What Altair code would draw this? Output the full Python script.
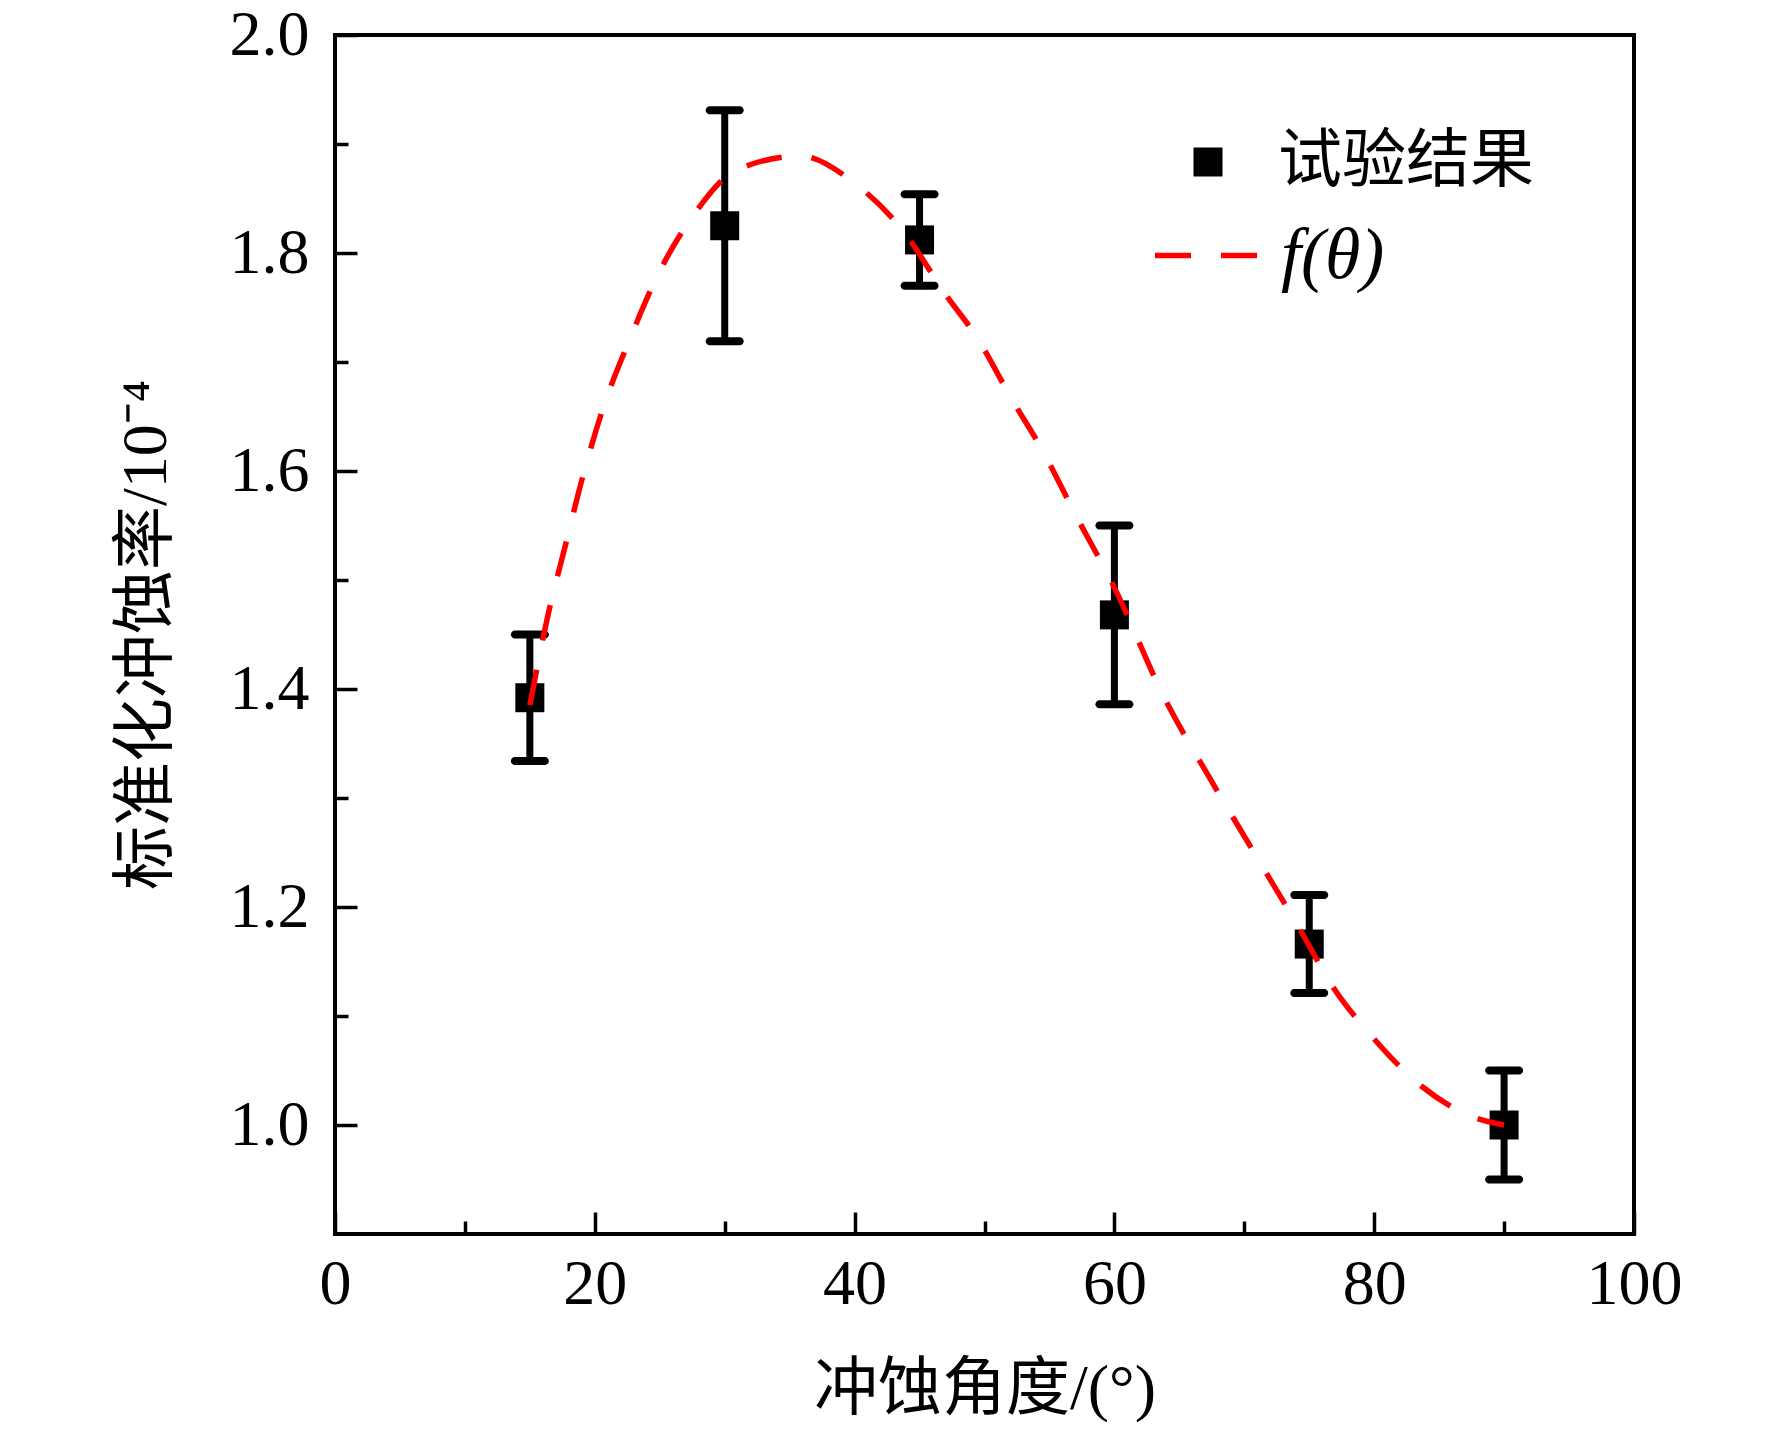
import altair as alt
import pandas as pd

# experimental data (erosion angle in degrees, normalised erosion rate /1e-4)
angles = [15, 30, 45, 60, 75, 90]
rates = [1.392, 1.825, 1.812, 1.468, 1.166, 1.000]
errors = [0.058, 0.106, 0.042, 0.082, 0.045, 0.050]

# fitted curve f(theta)
fit_theta = [15.0, 16.4, 17.7, 19.1, 20.65, 22.7, 24.9, 27.5, 30.9, 35.8, 40.0,
             43.75, 47.0, 49.5, 52.0, 54.5, 57.0, 60.0, 63.8, 67.4, 70.9, 74.4,
             76.8, 79.7, 83.6, 87.7, 90.0]
fit_rate = [1.385, 1.468, 1.530, 1.596, 1.658, 1.721, 1.781, 1.833, 1.876, 1.889, 1.864,
            1.820, 1.762, 1.721, 1.668, 1.618, 1.560, 1.493, 1.393, 1.317, 1.247, 1.177,
            1.127, 1.083, 1.036, 1.007, 1.000]

x_major = [0, 20, 40, 60, 80, 100]
x_minor = [10, 30, 50, 70, 90]
y_major = [1.0, 1.2, 1.4, 1.6, 1.8, 2.0]
y_minor = [1.1, 1.3, 1.5, 1.7, 1.9]

series_points = "试验结果"
series_fit = "f(θ)"
x_title = "冲蚀角度/(°)"
y_title = "标准化冲蚀率/10⁻⁴"

SERIF = '"Liberation Serif", "Noto Sans CJK SC", serif'

pts = pd.DataFrame({"angle": angles, "rate": rates, "err": errors})
pts["lo"] = pts["rate"] - pts["err"]
pts["hi"] = pts["rate"] + pts["err"]
pts["series"] = series_points

caps = pd.DataFrame({
    "angle": angles + angles,
    "cap": list(pts["lo"]) + list(pts["hi"]),
})

fit = pd.DataFrame({"angle": fit_theta, "rate": fit_rate, "series": series_fit})

xscale = alt.Scale(domain=[0, 100], nice=False, zero=False)
yscale = alt.Scale(domain=[0.9, 2.0], nice=False, zero=False)

common_axis = dict(domain=False, grid=False, tickWidth=3.5, tickColor="black",
                   labelFont=SERIF, labelFontSize=64, labelColor="black",
                   labelFlush=False, labelOverlap=False,
                   titleFont=SERIF, titleFontSize=64, titleColor="black",
                   titleFontWeight="normal")

x_major_axis = alt.Axis(orient="bottom", values=x_major, tickSize=22, offset=-22,
                        labelPadding=18, format="d", title=x_title, titlePadding=41,
                        **common_axis)
x_minor_axis = alt.Axis(orient="bottom", values=x_minor, tickSize=13, offset=-13,
                        labels=False, title=None, **common_axis)
y_major_axis = alt.Axis(orient="left", values=y_major, tickSize=22, offset=-22,
                        labelPadding=26, format=".1f", title=y_title, titlePadding=51,
                        **common_axis)
y_minor_axis = alt.Axis(orient="left", values=y_minor, tickSize=13, offset=-13,
                        labels=False, title=None, **common_axis)

stems = alt.Chart(pts).mark_rule(color="black", strokeWidth=7).encode(
    x=alt.X("angle:Q", scale=xscale, axis=x_major_axis),
    y=alt.Y("lo:Q", scale=yscale, axis=y_major_axis),
    y2="hi:Q",
)

cap_marks = alt.Chart(caps).mark_tick(orient="horizontal", color="black", size=38,
                                      thickness=8, cornerRadius=4, opacity=1).encode(
    x=alt.X("angle:Q", scale=xscale, axis=x_minor_axis),
    y=alt.Y("cap:Q", scale=yscale, axis=y_minor_axis),
)

squares = alt.Chart(pts).mark_point(filled=True, color="black", size=841, opacity=1).encode(
    x=alt.X("angle:Q", scale=xscale, axis=None),
    y=alt.Y("rate:Q", scale=yscale, axis=None),
    shape=alt.Shape("series:N",
                    scale=alt.Scale(domain=[series_points], range=["square"]),
                    legend=alt.Legend(title=None, orient="none", legendX=841, legendY=95,
                                      padding=0, symbolSize=841, symbolFillColor="black",
                                      symbolStrokeWidth=0, symbolOpacity=1,
                                      labelFont=SERIF, labelFontSize=64, labelColor="black",
                                      labelOffset=38, labelLimit=500)),
)

curve = alt.Chart(fit).mark_line(color="#ff0000", strokeWidth=5.5, interpolate="monotone",
                                 strokeCap="butt").encode(
    x=alt.X("angle:Q", scale=xscale, axis=None),
    y=alt.Y("rate:Q", scale=yscale, axis=None),
    strokeDash=alt.StrokeDash("series:N",
                              scale=alt.Scale(domain=[series_fit], range=[[36, 30]]),
                              legend=alt.Legend(title=None, orient="none", legendX=817,
                                                legendY=162, padding=0, symbolType="stroke",
                                                symbolSize=12321, symbolStrokeColor="#ff0000",
                                                symbolStrokeWidth=5.5,
                                                labelFont=SERIF, labelFontSize=72,
                                                labelFontStyle="italic", labelColor="black",
                                                labelOffset=12, labelLimit=500)),
)

chart = alt.layer(stems, cap_marks, squares, curve).resolve_axis(
    x="independent", y="independent"
).properties(
    width=1299,
    height=1199,
    autosize=alt.AutoSizeParams(type="none"),
    padding={"left": 327, "top": 27, "right": 120, "bottom": 188},
    background="white",
).configure_view(stroke="black", strokeWidth=4)

chart.save("out.html", embed_options={"renderer": "svg", "actions": False})
